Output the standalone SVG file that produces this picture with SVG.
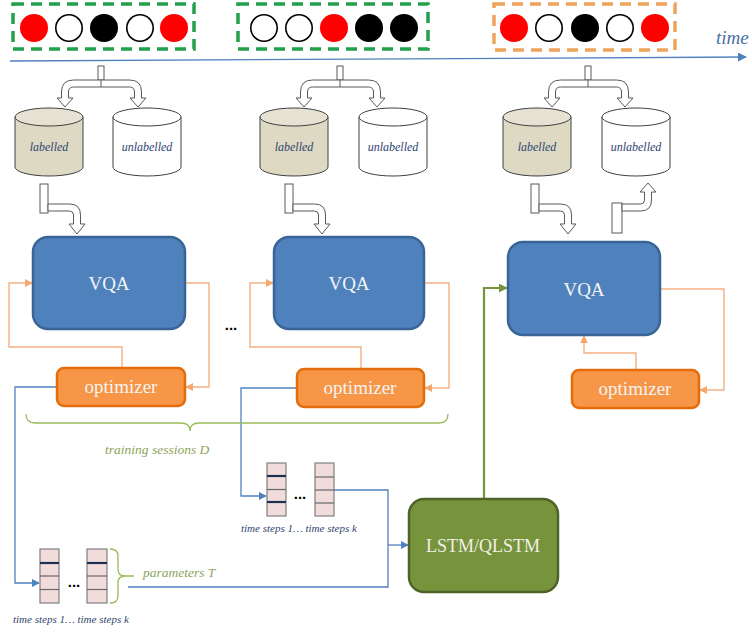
<svg xmlns="http://www.w3.org/2000/svg" width="752" height="633" viewBox="0 0 752 633">
  <style>
    .bg { fill: #ffffff; }
    .serif { font-family: 'Liberation Serif', 'Times New Roman', Tinos, 'DejaVu Serif', serif; }
    .dash-g { fill: none; stroke: #22a04b; stroke-width: 3.5; stroke-dasharray: 11 7; }
    .dash-o { fill: none; stroke: #f0a35a; stroke-width: 3.5; stroke-dasharray: 11 7; }
    .red { fill: #ff0000; }
    .blk { fill: #000000; }
    .wht { fill: #ffffff; stroke: #000000; stroke-width: 1.6; }
    .blockarrow { fill: #ffffff; stroke: #595959; stroke-width: 1; }
    .cyl-l { fill: #ddd9c3; stroke: #404040; stroke-width: 1; }
    .cyl-lt { fill: #e6e2d3; stroke: #404040; stroke-width: 1; }
    .cyl-u { fill: #ffffff; stroke: #404040; stroke-width: 1; }
    .cyl-txt { font-style: italic; font-size: 12px; fill: #2f4470; text-anchor: middle; }
    .vqa { fill: #4f81bd; stroke: #3a6495; stroke-width: 2.5; }
    .opt { fill: #f79646; stroke: #e46c0a; stroke-width: 2.5; }
    .lstm { fill: #77933c; stroke: #4f6228; stroke-width: 2.5; }
    .box-txt { font-size: 19px; fill: #f4f4f4; text-anchor: middle; }
    .lstm-txt { font-size: 18px; fill: #f0f0e8; text-anchor: middle; }
    .c-orange { fill: none; stroke: #f4b183; stroke-width: 1.4; }
    .c-blue { fill: none; stroke: #4f81bd; stroke-width: 1.3; }
    .c-green { fill: none; stroke: #77933c; stroke-width: 2.2; }
    .brace { fill: none; stroke: #9bbb59; stroke-width: 1.3; }
    .olive-txt { font-style: italic; font-size: 13.5px; fill: #8ea35a; }
    .step-txt { font-style: italic; font-size: 11px; fill: #2f4470; }
    .cell { fill: #f2dcdb; stroke: #7f7f7f; stroke-width: 1.2; }
    .rule-thick { stroke: #1f2f4f; stroke-width: 2.2; }
    .rule-thin { stroke: #666666; stroke-width: 1.2; }
    .dots { font-family: 'Liberation Sans', Arial, sans-serif; font-weight: bold; font-size: 15px; fill: #000000; text-anchor: middle; }
  </style>
  <defs>
    <marker id="ah-blue" viewBox="0 0 10 10" refX="9" refY="5" markerWidth="8" markerHeight="8" markerUnits="userSpaceOnUse" orient="auto">
      <path d="M0,0 L10,5 L0,10 Z" fill="#4f81bd"/>
    </marker>
    <marker id="ah-orange" viewBox="0 0 10 10" refX="9" refY="5" markerWidth="8" markerHeight="8" markerUnits="userSpaceOnUse" orient="auto">
      <path d="M0,0 L10,5 L0,10 Z" fill="#f4a86e"/>
    </marker>
    <marker id="ah-green" viewBox="0 0 10 10" refX="9" refY="5" markerWidth="9" markerHeight="9" markerUnits="userSpaceOnUse" orient="auto">
      <path d="M0,0 L10,5 L0,10 Z" fill="#77933c"/>
    </marker>
    <marker id="ah-time" viewBox="0 0 10 10" refX="9" refY="5" markerWidth="9" markerHeight="9" markerUnits="userSpaceOnUse" orient="auto">
      <path d="M0,0 L10,5 L0,10 Z" fill="#4f81bd"/>
    </marker>
    <!-- split block arrow: one stem feeding two downward heads -->
    <g id="split">
      <rect class="blockarrow" x="-3" y="66" width="6" height="14"/>
      <path class="blockarrow" d="M -36,107 L -28,98 L -32.5,98 L -32.5,92 Q -32.5,87 -27.5,87 L 28.5,87 Q 33.5,87 33.5,92 L 33.5,98 L 29,98 L 37,107 L 45,98 L 40.5,98 L 40.5,92 Q 40.5,80 28.5,80 L -27.5,80 Q -39.5,80 -39.5,92 L -39.5,98 L -44,98 Z"/>
      <line x1="0" y1="80" x2="0" y2="87" stroke="#595959" stroke-width="1"/>
    </g>
    <!-- bent block arrow: down-right into the model -->
    <g id="bend-down">
      <rect class="blockarrow" x="0" y="184" width="8" height="29"/>
      <path class="blockarrow" d="M 8,204 L 29.5,204 Q 40.5,204 40.5,215 L 40.5,224 L 45,224 L 37,234 L 29,224 L 33.5,224 L 33.5,215 Q 33.5,211 29.5,211 L 8,211 Z"/>
    </g>
  </defs>

  <rect class="bg" x="0" y="0" width="752" height="633"/>

  <!-- data stream along the time axis -->
  <g id="stream-1">
    <rect class="dash-g" x="13" y="4" width="181" height="45"/>
    <circle class="red" cx="34" cy="28" r="14"/>
    <circle class="wht" cx="69" cy="28" r="13.2"/>
    <circle class="blk" cx="104" cy="28" r="14"/>
    <circle class="wht" cx="140" cy="28" r="13.2"/>
    <circle class="red" cx="174" cy="28" r="14"/>
  </g>
  <g id="stream-2">
    <rect class="dash-g" x="238" y="4" width="190" height="45"/>
    <circle class="wht" cx="264" cy="28" r="13.2"/>
    <circle class="wht" cx="299" cy="28" r="13.2"/>
    <circle class="red" cx="334" cy="28" r="14"/>
    <circle class="blk" cx="369" cy="28" r="14"/>
    <circle class="blk" cx="404" cy="28" r="14"/>
  </g>
  <g id="stream-3">
    <rect class="dash-o" x="494" y="4" width="181" height="46"/>
    <circle class="red" cx="514" cy="28" r="14"/>
    <circle class="wht" cx="549" cy="28" r="13.2"/>
    <circle class="blk" cx="585" cy="28" r="14"/>
    <circle class="wht" cx="620" cy="28" r="13.2"/>
    <circle class="red" cx="655" cy="28" r="14"/>
  </g>

  <g id="time-axis">
    <line x1="10" y1="61" x2="746" y2="57" stroke="#4f81bd" stroke-width="1.3" marker-end="url(#ah-time)"/>
    <text class="serif" x="716" y="44" font-style="italic" font-size="19" fill="#4a6fa5">time</text>
  </g>

  <!-- block arrows splitting and feeding data -->
  <g id="block-arrows">
    <use href="#split" transform="translate(101,0)"/>
    <use href="#split" transform="translate(340,0)"/>
    <use href="#split" transform="translate(588,0)"/>
    <use href="#bend-down" transform="translate(40,0)"/>
    <use href="#bend-down" transform="translate(285,0)"/>
    <use href="#bend-down" transform="translate(531,0)"/>
    <rect class="blockarrow" x="612" y="203" width="10" height="30"/>
    <path class="blockarrow" d="M 622,204 L 640.5,204 Q 644.5,204 644.5,200 L 644.5,192 L 640,192 L 648,183 L 656,192 L 651.5,192 L 651.5,200 Q 651.5,211 640.5,211 L 622,211 Z"/>
  </g>

  <g class="serif">
  <!-- storage cylinders -->
  <g id="labelled-1">
    <path class="cyl-l" d="M15,117 L15,167 A34,9 0 0 0 83,167 L83,117 Z"/>
    <ellipse class="cyl-lt" cx="49" cy="117" rx="34" ry="9"/>
    <text class="cyl-txt" x="49" y="151">labelled</text>
  </g>
  <g id="unlabelled-1">
    <path class="cyl-u" d="M113,117 L113,167 A34,9 0 0 0 181,167 L181,117 Z"/>
    <ellipse class="cyl-u" cx="147" cy="117" rx="34" ry="9"/>
    <text class="cyl-txt" x="147" y="151">unlabelled</text>
  </g>
  <g id="labelled-2">
    <path class="cyl-l" d="M260,117 L260,167 A34,9 0 0 0 328,167 L328,117 Z"/>
    <ellipse class="cyl-lt" cx="294" cy="117" rx="34" ry="9"/>
    <text class="cyl-txt" x="294" y="151">labelled</text>
  </g>
  <g id="unlabelled-2">
    <path class="cyl-u" d="M359,117 L359,167 A34,9 0 0 0 427,167 L427,117 Z"/>
    <ellipse class="cyl-u" cx="393" cy="117" rx="34" ry="9"/>
    <text class="cyl-txt" x="393" y="151">unlabelled</text>
  </g>
  <g id="labelled-3">
    <path class="cyl-l" d="M503,117 L503,167 A34,9 0 0 0 571,167 L571,117 Z"/>
    <ellipse class="cyl-lt" cx="537" cy="117" rx="34" ry="9"/>
    <text class="cyl-txt" x="537" y="151">labelled</text>
  </g>
  <g id="unlabelled-3">
    <path class="cyl-u" d="M602,117 L602,167 A34,9 0 0 0 670,167 L670,117 Z"/>
    <ellipse class="cyl-u" cx="636" cy="117" rx="34" ry="9"/>
    <text class="cyl-txt" x="636" y="151">unlabelled</text>
  </g>

  <!-- connectors -->
  <g id="connectors">
    <polyline class="c-orange" points="122,368 122,347 9,347 9,283 32,283" marker-end="url(#ah-orange)"/>
    <polyline class="c-orange" points="185,283 209,283 209,387 186,387" marker-end="url(#ah-orange)"/>
    <polyline class="c-orange" points="361,369 361,347 250,347 250,283 273,283" marker-end="url(#ah-orange)"/>
    <polyline class="c-orange" points="424,283 449,283 449,388 425,388" marker-end="url(#ah-orange)"/>
    <polyline class="c-orange" points="636,370 636,353 584,353 584,336" marker-end="url(#ah-orange)"/>
    <polyline class="c-orange" points="660,289 724,289 724,390 700,390" marker-end="url(#ah-orange)"/>

    <polyline class="c-blue" points="57,387 15,387 15,583 39,583" marker-end="url(#ah-blue)"/>
    <polyline class="c-blue" points="297,388 241,388 241,496 266,496" marker-end="url(#ah-blue)"/>
    <polyline class="c-blue" points="334,490 388,490 388,587 128,587"/>
    <line class="c-blue" x1="388" y1="545" x2="408" y2="545" marker-end="url(#ah-blue)"/>

    <polyline class="c-green" points="484,499 484,288 507,288" marker-end="url(#ah-green)"/>
  </g>

  <!-- models and optimizers -->
  <g id="vqa-1">
    <rect class="vqa" x="33" y="237" width="152" height="92" rx="15"/>
    <text class="box-txt" x="109" y="290" font-size="20">VQA</text>
  </g>
  <g id="vqa-2">
    <rect class="vqa" x="274" y="237" width="150" height="92" rx="15"/>
    <text class="box-txt" x="349" y="290" font-size="20">VQA</text>
  </g>
  <g id="vqa-3">
    <rect class="vqa" x="508" y="242" width="152" height="93" rx="15"/>
    <text class="box-txt" x="584" y="296" font-size="20">VQA</text>
  </g>
  <g id="optimizer-1">
    <rect class="opt" x="57" y="368" width="128" height="38" rx="7"/>
    <text class="box-txt" x="121" y="393">optimizer</text>
  </g>
  <g id="optimizer-2">
    <rect class="opt" x="297" y="369" width="127" height="38" rx="7"/>
    <text class="box-txt" x="360" y="394">optimizer</text>
  </g>
  <g id="optimizer-3">
    <rect class="opt" x="572" y="370" width="127" height="38" rx="7"/>
    <text class="box-txt" x="635" y="395">optimizer</text>
  </g>
  <g id="lstm">
    <rect class="lstm" x="409" y="499" width="149" height="93" rx="15"/>
    <text class="lstm-txt" x="483" y="552">LSTM/QLSTM</text>
  </g>

  <text class="dots" x="231" y="330">...</text>

  <!-- training sessions brace -->
  <g id="sessions">
    <path class="brace" d="M26,414 Q26,423 35,423 L181,423 Q190,423 190,431 Q190,423 199,423 L439,423 Q448,423 448,414"/>
    <text class="olive-txt" x="105" y="454">training sessions D</text>
  </g>

  <!-- parameter history, later session -->
  <g id="params-2">
    <rect class="cell" x="267" y="463" width="19" height="53"/>
    <line class="rule-thick" x1="267" y1="476" x2="286" y2="476"/>
    <line class="rule-thin" x1="267" y1="489.5" x2="286" y2="489.5"/>
    <line class="rule-thick" x1="267" y1="502" x2="286" y2="502"/>
    <rect class="cell" x="315" y="463" width="19" height="53"/>
    <line class="rule-thin" x1="315" y1="477" x2="334" y2="477"/>
    <line class="rule-thin" x1="315" y1="490" x2="334" y2="490"/>
    <line class="rule-thin" x1="315" y1="503" x2="334" y2="503"/>
    <text class="dots" x="300" y="499">...</text>
    <text class="step-txt" x="241" y="532">time steps 1… time steps k</text>
  </g>

  <!-- parameter history, first session -->
  <g id="params-1">
    <rect class="cell" x="40" y="549" width="19" height="54"/>
    <line class="rule-thick" x1="40" y1="563" x2="59" y2="563"/>
    <line class="rule-thin" x1="40" y1="576" x2="59" y2="576"/>
    <line class="rule-thin" x1="40" y1="589.5" x2="59" y2="589.5"/>
    <rect class="cell" x="87" y="549" width="20" height="54"/>
    <line class="rule-thick" x1="87" y1="563" x2="107" y2="563"/>
    <line class="rule-thin" x1="87" y1="576" x2="107" y2="576"/>
    <line class="rule-thin" x1="87" y1="589.5" x2="107" y2="589.5"/>
    <text class="dots" x="74" y="587">...</text>
    <path class="brace" d="M110,549 Q118,549 118,556 L118,569 Q118,576 125,576 L134,576 M125,576 Q118,576 118,583 L118,596 Q118,603 110,603"/>
    <text class="olive-txt" x="143" y="577">parameters T</text>
    <text class="step-txt" x="13" y="623">time steps 1… time steps k</text>
  </g>
  </g>
</svg>
